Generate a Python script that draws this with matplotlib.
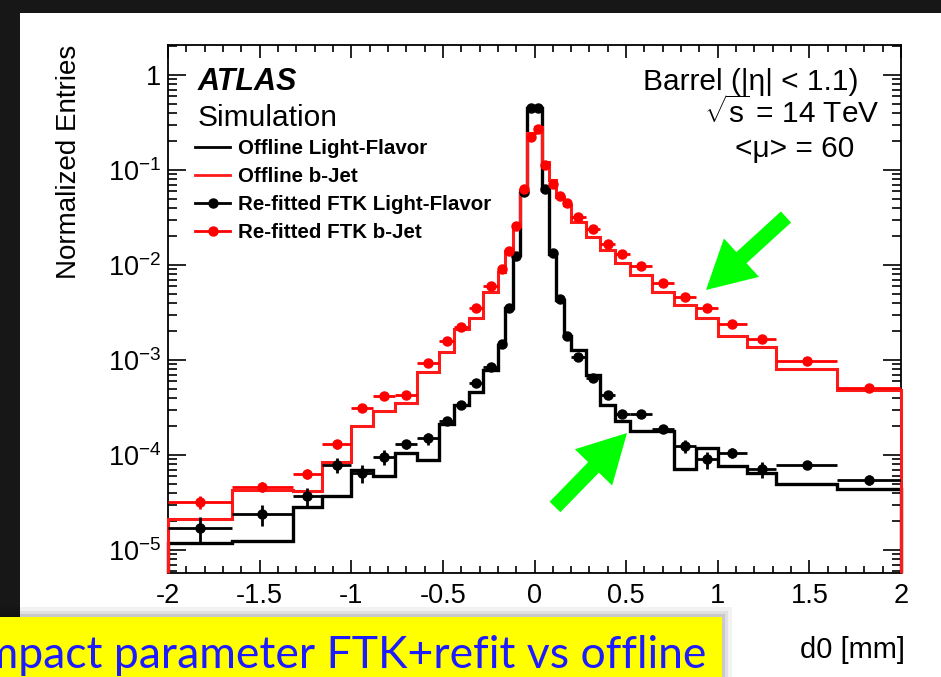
import numpy as np
import matplotlib
matplotlib.use('Agg')
import matplotlib.pyplot as plt
from matplotlib.lines import Line2D
from matplotlib.patches import Rectangle, FancyArrow
from matplotlib.ticker import MultipleLocator, LogLocator, NullFormatter

plt.rcParams['font.family'] = ['Liberation Sans', 'DejaVu Sans']
plt.rcParams['mathtext.fontset'] = 'custom'
plt.rcParams['mathtext.rm'] = 'Liberation Sans'
plt.rcParams['mathtext.it'] = 'Liberation Sans:italic'
plt.rcParams['mathtext.bf'] = 'Liberation Sans:bold'

# d0 binning in mm, finer towards zero
bin_edges = [-2.0, -1.65, -1.32, -1.16, -1.0, -0.88, -0.76, -0.64, -0.52, -0.44,
             -0.36, -0.28, -0.2, -0.16, -0.12, -0.08, -0.04, 0.0, 0.04, 0.08,
             0.12, 0.16, 0.2, 0.28, 0.36, 0.44, 0.52, 0.64, 0.76, 0.88,
             1.0, 1.16, 1.32, 1.65, 2.0]

# offline tracks (histograms)
offline_lf = [1.2e-5, 1.25e-5, 2.85e-5, 3.7e-5, 6.9e-5, 6.0e-5, 1.05e-4, 8.9e-5,
              2.1e-4, 3.4e-4, 4.6e-4, 7.9e-4, 1.44e-3, 3.5e-3, 1.27e-2, 5.7e-2,
              0.45, 0.45, 6.2e-2, 1.32e-2, 4.3e-3, 1.8e-3, 1.28e-3, 6.9e-4,
              3.4e-4, 2.3e-4, 1.8e-4, 1.8e-4, 7.1e-5, 1.18e-4, 7.6e-5, 6.5e-5,
              5.0e-5, 4.4e-5]
offline_bjet = [2.1e-5, 4.3e-5, 4.2e-5, 8.4e-5, 2.0e-4, 2.9e-4, 3.5e-4, 7.5e-4,
                1.2e-3, 2.1e-3, 2.75e-3, 5.2e-3, 8.5e-3, 1.4e-2, 2.6e-2, 6.2e-2,
                0.243, 0.286, 0.122, 0.079, 0.052, 0.043, 0.0287, 0.0199,
                0.0144, 0.0104, 7.85e-3, 5.24e-3, 3.8e-3, 2.8e-3, 1.79e-3, 1.38e-3,
                8.0e-4, 4.8e-4]

# re-fitted FTK tracks (points) with relative uncertainties
ftk_lf = [1.7e-5, 2.4e-5, 3.7e-5, 7.9e-5, 6.5e-5, 9.5e-5, 1.3e-4, 1.5e-4,
          2.3e-4, 3.4e-4, 5.7e-4, 8.4e-4, 1.47e-3, 3.5e-3, 1.23e-2, 5.8e-2,
          0.45, 0.45, 6.3e-2, 1.34e-2, 4.4e-3, 1.8e-3, 1.08e-3, 6.4e-4,
          4.3e-4, 2.7e-4, 2.7e-4, 1.9e-4, 1.24e-4, 9.0e-5, 1.06e-4, 7.1e-5,
          7.85e-5, 5.5e-5]
ftk_lf_relerr = [0.30, 0.25, 0.22, 0.18, 0.22, 0.18, 0.12, 0.15, 0.06, 0.05,
                 0.05, 0.04, 0.03, 0.02, 0.02, 0.02, 0.01, 0.01, 0.02, 0.02,
                 0.02, 0.03, 0.04, 0.05, 0.05, 0.05, 0.06, 0.08, 0.15, 0.20,
                 0.12, 0.20, 0.10, 0.12]
ftk_bjet = [3.2e-5, 4.6e-5, 6.3e-5, 1.3e-4, 3.1e-4, 4.2e-4, 4.3e-4, 9.4e-4,
            1.6e-3, 2.2e-3, 3.5e-3, 6.0e-3, 9.0e-3, 1.41e-2, 2.6e-2, 6.3e-2,
            0.224, 0.27, 0.113, 0.072, 0.053, 0.045, 0.032, 0.024,
            0.0166, 0.0131, 9.8e-3, 6.44e-3, 4.57e-3, 3.5e-3, 2.4e-3, 1.66e-3,
            9.8e-4, 5.1e-4]
ftk_bjet_relerr = [0.15, 0.12, 0.12, 0.10, 0.06, 0.05, 0.05, 0.05, 0.04, 0.04,
                   0.03, 0.03, 0.02, 0.02, 0.02, 0.02, 0.01, 0.01, 0.02, 0.02,
                   0.02, 0.02, 0.02, 0.02, 0.02, 0.02, 0.03, 0.03, 0.03, 0.03,
                   0.04, 0.04, 0.05, 0.05]

xtick_vals = [-2, -1.5, -1, -0.5, 0, 0.5, 1, 1.5, 2]
xtick_labels = ['-2', '-1.5', '-1', '-0.5', '0', '0.5', '1', '1.5', '2']
ytick_vals = [1e-5, 1e-4, 1e-3, 1e-2, 1e-1, 1]
ytick_labels = ['10$^{-5}$', '10$^{-4}$', '10$^{-3}$', '10$^{-2}$', '10$^{-1}$', '1']

YMIN, YMAX = 5.73e-6, 2.07

W, H = 941, 677
fig = plt.figure(figsize=(W / 100, H / 100), dpi=100, facecolor='#171717')

# slide background: dark frame with white panel
bg = fig.add_axes([0, 0, 1, 1], zorder=0)
bg.set_xlim(0, W)
bg.set_ylim(H, 0)
bg.axis('off')
bg.add_patch(Rectangle((20, 13), W - 20, H - 13, color='white', lw=0))

ax = fig.add_axes([168 / W, 104 / H, 733 / W, 528 / H], zorder=1)
ax.set_facecolor('white')

edges = np.array(bin_edges)
centers = 0.5 * (edges[:-1] + edges[1:])
half = 0.5 * (edges[1:] - edges[:-1])

# histograms drop to the frame at both ends, drawn over the spines
ax.stairs(offline_lf, edges, baseline=YMIN, color='black', lw=2.4,
          clip_on=False, zorder=2.6)
ax.stairs(offline_bjet, edges, baseline=YMIN, color='#ff1a1a', lw=2.2,
          clip_on=False, zorder=2.7)

lf = np.array(ftk_lf)
bj = np.array(ftk_bjet)
ax.errorbar(centers, lf, xerr=half, yerr=lf * np.array(ftk_lf_relerr), fmt='o',
            color='black', ms=6.5, elinewidth=2, capsize=0, zorder=3)
ax.errorbar(centers, bj, xerr=half, yerr=bj * np.array(ftk_bjet_relerr), fmt='o',
            color='#ff0000', ms=6.5, elinewidth=2, capsize=0, zorder=3)

ax.set_xlim(-2, 2)
ax.set_yscale('log')
ax.set_ylim(YMIN, YMAX)

ax.set_xticks(xtick_vals)
ax.set_xticklabels(xtick_labels)
ax.xaxis.set_minor_locator(MultipleLocator(0.1))
ax.set_yticks(ytick_vals)
ax.set_yticklabels(ytick_labels)
ax.yaxis.set_minor_locator(LogLocator(base=10, subs=np.arange(2, 10), numticks=20))
ax.yaxis.set_minor_formatter(NullFormatter())

ax.tick_params(which='both', direction='in', top=True, right=True, width=1.2)
ax.tick_params(axis='x', which='major', length=9.5, pad=7, labelsize=19.5)
ax.tick_params(axis='x', which='minor', length=5)
ax.tick_params(axis='y', which='major', length=13, pad=5, labelsize=19.5)
ax.tick_params(axis='y', which='minor', length=6.5)
for s in ax.spines.values():
    s.set_linewidth(1.3)

ax.set_ylabel('Normalized Entries', fontsize=20, loc='top')
ax.yaxis.set_label_coords(-0.117, 1.0)
ax.set_xlabel('d0 [mm]', fontsize=21, loc='right')
ax.xaxis.set_label_coords(1.006, -0.12)

ax.text(0.041, 0.915, 'ATLAS', transform=ax.transAxes, fontsize=22,
        fontweight='bold', fontstyle='italic', va='baseline')
ax.text(0.041, 0.847, 'Simulation', transform=ax.transAxes, fontsize=21.5,
        va='baseline')
ax.text(0.648, 0.915, 'Barrel (|η| < 1.1)', transform=ax.transAxes,
        fontsize=21.5, va='baseline')
ax.text(0.731, 0.852, r'$\sqrt{\mathrm{s}}$ = 14 TeV', transform=ax.transAxes,
        fontsize=21.5, va='baseline')
ax.text(0.773, 0.788, '<μ> = 60', transform=ax.transAxes, fontsize=21.5,
        va='baseline')

handles = [Line2D([], [], color='black', lw=2),
           Line2D([], [], color='#ff1a1a', lw=2),
           Line2D([], [], color='black', lw=2, marker='o', ms=6.5),
           Line2D([], [], color='#ff0000', lw=2, marker='o', ms=6.5)]
labels = ['Offline Light-Flavor', 'Offline b-Jet',
          'Re-fitted FTK Light-Flavor', 'Re-fitted FTK b-Jet']
ax.legend(handles, labels, loc='upper left', bbox_to_anchor=(0.037, 0.822),
          frameon=False, borderpad=0, borderaxespad=0, handlelength=1.7,
          handletextpad=0.4, labelspacing=0.44,
          prop={'weight': 'bold', 'size': 14.8})

# annotations on top: arrows and caption box
ov = fig.add_axes([0, 0, 1, 1], zorder=2)
ov.set_xlim(0, W)
ov.set_ylim(H, 0)
ov.axis('off')
ov.patch.set_alpha(0)

for tail, tip in [((786, 217), (706, 290)), ((555, 507), (627, 433))]:
    ov.add_patch(FancyArrow(tail[0], tail[1], tip[0] - tail[0], tip[1] - tail[1],
                            width=15, head_width=52, head_length=48,
                            length_includes_head=True, color='#00ff00', lw=0))

for pad, a in [(10, 0.05), (6, 0.07), (3, 0.10)]:
    ov.add_patch(Rectangle((0, 617 - pad), 722 + pad, H, color='black',
                           alpha=a, lw=0))
ov.add_patch(Rectangle((0, 617), 722, H - 617, color='#ffff00', lw=0))
# caption runs off the left edge of the slide
ov.text(706, 668, 'Impact parameter FTK+refit vs offline', ha='right',
        va='baseline', fontsize=32, color='#1c1cff', family=['Lato', 'DejaVu Sans'])

fig.savefig('out.png', dpi=100, facecolor=fig.get_facecolor())
